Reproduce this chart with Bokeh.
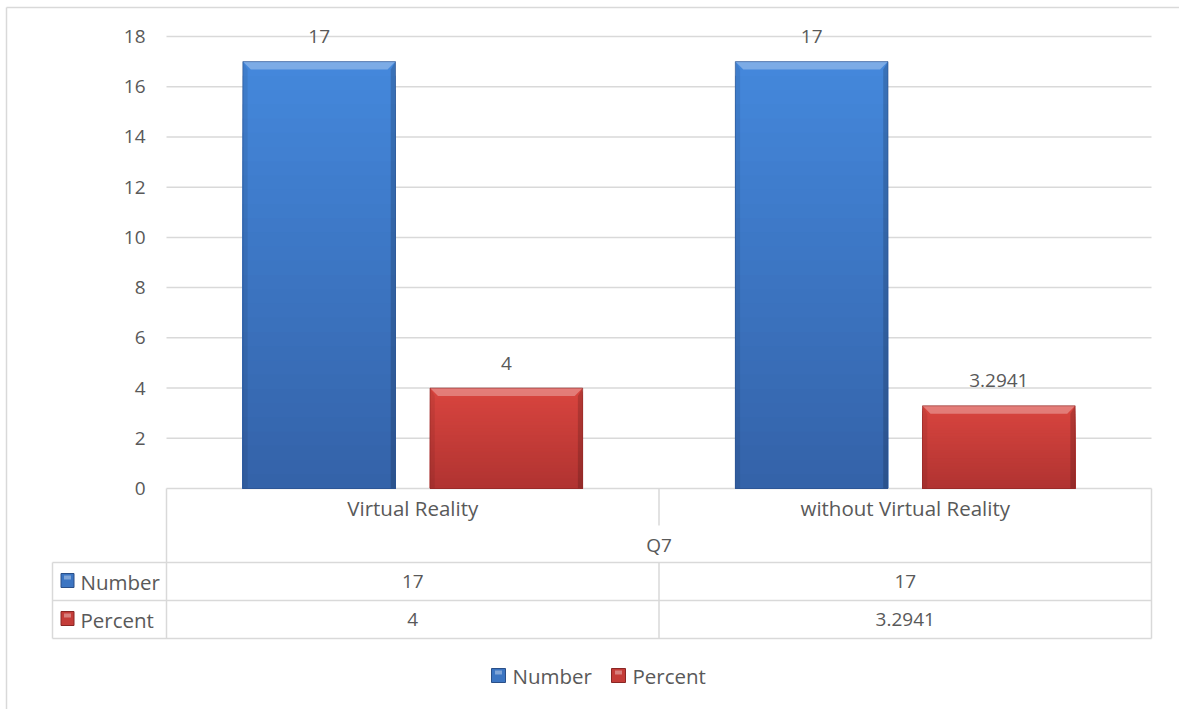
from bokeh.plotting import figure
from bokeh.models import Range1d
from bokeh.embed import file_html
from bokeh.resources import INLINE
from bokeh.core.properties import value

# ---- data -------------------------------------------------------------
categories = ["Virtual Reality", "without Virtual Reality"]
group_label = "Q7"
series_names = ["Number", "Percent"]
number_values = [17, 17]
percent_values = [4, 3.2941]
y_ticks = [0, 2, 4, 6, 8, 10, 12, 14, 16, 18]

series_values = [number_values, percent_values]

# ---- styling ----------------------------------------------------------
FONT = "Open Sans"
FONT_SIZE = "19px"
WORD_FONT_SIZE = "20.5px"
TEXT_COLOR = "#595959"
LINE_COLOR = "#d9d9d9"
# (bottom colour, top colour, edge colour) for each series
SERIES_STYLE = [
    ("#3462a8", "#4488dc", "#2a4f88"),
    ("#b03331", "#d9453f", "#8a2624"),
]

# ---- canvas geometry (pixels) ----------------------------------------
W, H = 1179, 709
PLOT_L, PLOT_R, PLOT_T, PLOT_B = 166, 1151, 36, 488
LABEL_COL_W = 114
ROW_CAT_SPLIT = 525
ROW_LINES = [562, 600, 638]
ROW_CAT_Y, ROW_GROUP_Y = 507, 544
ROW_SERIES_Y = [581, 619]
LEGEND_Y = 675
LEGEND_X = [498, 618]

n = len(categories)
y_top = y_ticks[-1]
val_per_px = y_top / (PLOT_B - PLOT_T)
px_per_cat = (PLOT_R - PLOT_L) / n

p = figure(
    width=W, height=H,
    x_range=Range1d(0, W), y_range=Range1d(H, 0),
    output_backend="svg", toolbar_location=None,
    x_axis_type=None, y_axis_type=None,
    min_border=0, outline_line_color=None,
    background_fill_color="white", border_fill_color="white",
)
p.extra_x_ranges = {"cat": Range1d(-PLOT_L / px_per_cat, n + (W - PLOT_R) / px_per_cat)}
p.extra_y_ranges = {"val": Range1d(-(H - PLOT_B) * val_per_px, y_top + PLOT_T * val_per_px)}

# chart border (left and top edges)
p.segment(x0=[6, 6], y0=[7, 7], x1=[6, W], y1=[H, 7], line_color=LINE_COLOR, line_width=1.5)

# horizontal gridlines and value-axis labels
p.segment(x0=0, x1=n, y0=y_ticks, y1=y_ticks, x_range_name="cat", y_range_name="val",
          line_color=LINE_COLOR, line_width=1.5)
p.text(x=[0] * len(y_ticks), y=y_ticks, text=[str(t) for t in y_ticks],
       x_range_name="cat", y_range_name="val", x_offset=-21,
       text_align="right", text_baseline="middle",
       text_font=value(FONT), text_font_size=FONT_SIZE, text_color=TEXT_COLOR)

# ---- bars ---------------------------------------------------------------
BAR_W = 0.31
OFFSETS = [-0.19, 0.19]
SLICES = 30
BEVEL_X = 8 / px_per_cat
BEVEL_Y = 8 * val_per_px


def mix(c1, c2, t):
    a = [int(c1[i:i + 2], 16) for i in (1, 3, 5)]
    b = [int(c2[i:i + 2], 16) for i in (1, 3, 5)]
    return "#%02x%02x%02x" % tuple(round(a[k] + (b[k] - a[k]) * t) for k in range(3))


for s, vals in enumerate(series_values):
    bottom_c, top_c, edge_c = SERIES_STYLE[s]
    lefts, rights, tops, cols = [], [], [], []
    top_xs, top_ys, left_xs, left_ys, right_xs, right_ys = [], [], [], [], [], []
    for i, v in enumerate(vals):
        c = i + 0.5 + OFFSETS[s]
        l, r = c - BAR_W / 2, c + BAR_W / 2
        # vertical shading: nested bars from the base, tallest (lightest) first
        for k in reversed(range(SLICES)):
            lefts.append(l)
            rights.append(r)
            tops.append(v * (k + 1) / SLICES)
            cols.append(mix(bottom_c, top_c, (k + 0.5) / SLICES))
        top_xs.append([l, r, r - BEVEL_X, l + BEVEL_X])
        top_ys.append([v, v, v - BEVEL_Y, v - BEVEL_Y])
        left_xs.append([l, l + BEVEL_X * 0.6, l + BEVEL_X * 0.6, l])
        left_ys.append([v, v - BEVEL_Y, 0, 0])
        right_xs.append([r, r - BEVEL_X * 0.6, r - BEVEL_X * 0.6, r])
        right_ys.append([v, v - BEVEL_Y, 0, 0])
    p.quad(left=lefts, right=rights, bottom=[0] * len(tops), top=tops, fill_color=cols,
           line_color=None, x_range_name="cat", y_range_name="val")
    p.patches(xs=top_xs, ys=top_ys, fill_color="white", fill_alpha=0.3, line_color=None,
              x_range_name="cat", y_range_name="val")
    p.patches(xs=left_xs, ys=left_ys, fill_color="black", fill_alpha=0.07, line_color=None,
              x_range_name="cat", y_range_name="val")
    p.patches(xs=right_xs, ys=right_ys, fill_color="black", fill_alpha=0.16, line_color=None,
              x_range_name="cat", y_range_name="val")
    p.quad(left=[i + 0.5 + OFFSETS[s] - BAR_W / 2 for i in range(n)],
           right=[i + 0.5 + OFFSETS[s] + BAR_W / 2 for i in range(n)],
           bottom=[0] * n, top=vals, fill_color=None, line_color=edge_c, line_alpha=0.6,
           line_width=1, x_range_name="cat", y_range_name="val")
    # value labels above the bars
    p.text(x=[i + 0.5 + OFFSETS[s] for i in range(n)], y=vals,
           text=[f"{v:g}" for v in vals], x_range_name="cat", y_range_name="val",
           y_offset=-25, text_align="center", text_baseline="middle",
           text_font=value(FONT), text_font_size=FONT_SIZE, text_color=TEXT_COLOR)

# ---- data table under the chart ---------------------------------------
label_left = -LABEL_COL_W / px_per_cat
# horizontal rules
p.segment(x0=[label_left] * len(ROW_LINES), x1=[n] * len(ROW_LINES), y0=ROW_LINES, y1=ROW_LINES,
          x_range_name="cat", line_color=LINE_COLOR, line_width=1.5)
# outer verticals of the value columns
p.segment(x0=[0, n], x1=[0, n], y0=[PLOT_B, PLOT_B], y1=[ROW_LINES[-1]] * 2,
          x_range_name="cat", line_color=LINE_COLOR, line_width=1.5)
# label column left edge
p.segment(x0=[label_left], x1=[label_left], y0=[ROW_LINES[0]], y1=[ROW_LINES[-1]],
          x_range_name="cat", line_color=LINE_COLOR, line_width=1.5)
# dividers between categories (broken by the group row)
inner = list(range(1, n))
p.segment(x0=inner, x1=inner, y0=[PLOT_B] * len(inner), y1=[ROW_CAT_SPLIT] * len(inner),
          x_range_name="cat", line_color=LINE_COLOR, line_width=1.5)
p.segment(x0=inner, x1=inner, y0=[ROW_LINES[0]] * len(inner), y1=[ROW_LINES[-1]] * len(inner),
          x_range_name="cat", line_color=LINE_COLOR, line_width=1.5)

centers = [i + 0.5 for i in range(n)]
text_kw = dict(text_font=value(FONT), text_font_size=FONT_SIZE, text_color=TEXT_COLOR,
               text_baseline="middle")
word_kw = dict(text_kw, text_font_size=WORD_FONT_SIZE)
p.text(x=centers, y=[ROW_CAT_Y] * n, text=categories, x_range_name="cat",
       text_align="center", **word_kw)
p.text(x=[n / 2], y=[ROW_GROUP_Y], text=[group_label], x_range_name="cat",
       text_align="center", **text_kw)
for s, vals in enumerate(series_values):
    p.text(x=centers, y=[ROW_SERIES_Y[s]] * n, text=[f"{v:g}" for v in vals],
           x_range_name="cat", text_align="center", **text_kw)
    p.text(x=[label_left], y=[ROW_SERIES_Y[s]], text=[series_names[s]], x_range_name="cat",
           x_offset=28, text_align="left", **word_kw)

# legend keys inside the table rows and the legend below
key_x_table = [label_left + 15 / px_per_cat]
for s in range(len(series_names)):
    bottom_c, top_c, edge_c = SERIES_STYLE[s]
    p.rect(x=key_x_table, y=[ROW_SERIES_Y[s] - 1], width=13, height=14,
           width_units="screen", height_units="screen", x_range_name="cat",
           fill_color=mix(bottom_c, top_c, 0.5), line_color=edge_c, line_width=1)
    p.rect(x=key_x_table, y=[ROW_SERIES_Y[s] - 4], width=7, height=4,
           width_units="screen", height_units="screen", x_range_name="cat",
           fill_color="white", fill_alpha=0.35, line_color=None)
    p.rect(x=[LEGEND_X[s]], y=[LEGEND_Y], width=14, height=14,
           width_units="screen", height_units="screen",
           fill_color=mix(bottom_c, top_c, 0.5), line_color=edge_c, line_width=1)
    p.rect(x=[LEGEND_X[s]], y=[LEGEND_Y - 3], width=7, height=4,
           width_units="screen", height_units="screen",
           fill_color="white", fill_alpha=0.35, line_color=None)
    p.text(x=[LEGEND_X[s] + 14], y=[LEGEND_Y], text=[series_names[s]],
           text_align="left", **word_kw)

open("out.html", "w").write(file_html(p, INLINE))
